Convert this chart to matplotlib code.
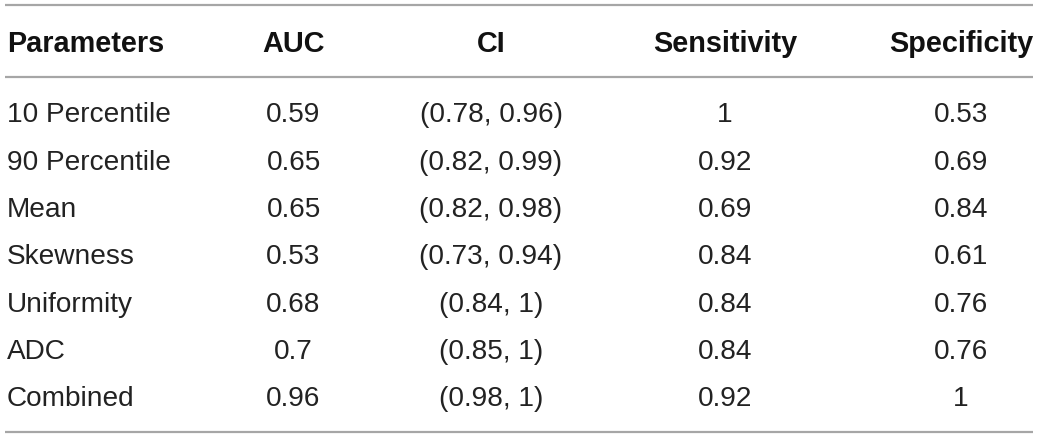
import matplotlib
matplotlib.use("Agg")
import matplotlib.pyplot as plt

columns = ["Parameters", "AUC", "CI", "Sensitivity", "Specificity"]
parameters = ["10 Percentile", "90 Percentile", "Mean", "Skewness", "Uniformity", "ADC", "Combined"]
auc = ["0.59", "0.65", "0.65", "0.53", "0.68", "0.7", "0.96"]
ci = ["(0.78, 0.96)", "(0.82, 0.99)", "(0.82, 0.98)", "(0.73, 0.94)", "(0.84, 1)", "(0.85, 1)", "(0.98, 1)"]
sensitivity = ["1", "0.92", "0.69", "0.84", "0.84", "0.84", "0.92"]
specificity = ["0.53", "0.69", "0.84", "0.61", "0.76", "0.76", "1"]

W, H = 1040, 438
fig = plt.figure(figsize=(W / 100, H / 100), dpi=100)
ax = fig.add_axes([0, 0, 1, 1])
ax.set_xlim(0, W)
ax.set_ylim(H, 0)
ax.axis("off")

font = "Liberation Sans"
fs_head = 20.8
fs_body = 20.2
line_color = "#a6a6a6"
text_color = "#222222"

col_x = [7, 293.5, 491, 725, 961]
col_ha = ["left", "center", "center", "center", "center"]

for x, ha, name in zip(col_x, col_ha, columns):
    ax.text(x, 52.5, name, ha=ha, va="baseline", fontsize=fs_head, fontweight="bold",
            family=font, color="#111111")

row_y0, row_dy = 122.3, 47.3
cols_data = [parameters, auc, ci, sensitivity, specificity]
for i in range(len(parameters)):
    y = row_y0 + i * row_dy
    for x, ha, col in zip(col_x, col_ha, cols_data):
        ax.text(x, y, col[i], ha=ha, va="baseline", fontsize=fs_body, family=font,
                color=text_color)

for y in [5, 77, 432]:
    ax.plot([5, 1033], [y, y], color=line_color, lw=1.6, solid_capstyle="butt")

fig.savefig("out.png", dpi=100)
